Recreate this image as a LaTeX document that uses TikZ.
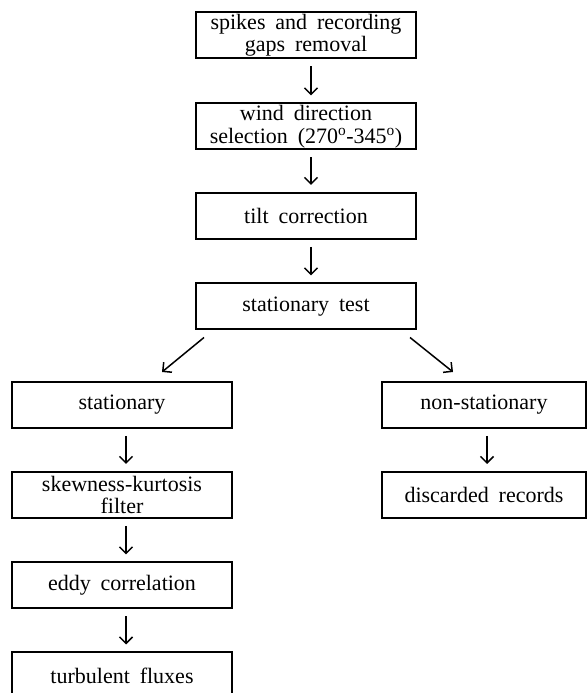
\documentclass[tikz,border=0pt]{standalone}
\usepackage{fontspec}
\setmainfont{Liberation Serif}[WordSpace=1.8]
\usetikzlibrary{arrows.meta}
\tikzset{
  flowbox/.style={draw, line width=2pt, minimum width=220pt, minimum height=46pt,
    inner sep=0pt, align=center,
    font=\fontsize{22}{22.5}\selectfont},
  narrowbox/.style={flowbox, minimum width=204pt},
  arr/.style={line width=1.5pt, -{Straight Barb[length=6.5pt,width=13pt,line width=1.5pt]}},
  varr/.style={arr, shorten <=7pt, shorten >=7pt}
}
\begin{document}
\begin{tikzpicture}[x=1pt,y=1pt]
\useasboundingbox (0,0) rectangle (587,693);
\node[flowbox] (b1) at (306,657.5) {spikes and recording\\gaps removal};
\node[flowbox] (b2) at (306,566.5) {wind direction\\selection (270\textsuperscript{o}-345\textsuperscript{o})};
\node[flowbox] (b3) at (306,477) {tilt correction};
\node[flowbox] (b4) at (306,386.5) {stationary test};
\node[flowbox] (st) at (122,288) {stationary};
\node[flowbox] (sk) at (122,198) {skewness-kurtosis\\filter};
\node[flowbox] (ed) at (122,107.5) {eddy correlation};
\node[flowbox] (tu) at (122,17.5) {turbulent fluxes};
\node[narrowbox] (ns) at (484,288) {non-stationary};
\node[narrowbox] (dr) at (484,198) {discarded records};
\draw[varr] ([xshift=5pt]b1.south) -- ([xshift=5pt]b2.north);
\draw[varr] ([xshift=5pt]b2.south) -- ([xshift=5pt]b3.north);
\draw[varr] ([xshift=5pt]b3.south) -- ([xshift=5pt]b4.north);
\draw[arr] ([shift={(9,-7)}]b4.south west) -- ([shift={(40,9)}]st.north);
\draw[arr] ([shift={(-7,-7)}]b4.south east) -- ([shift={(-31,9)}]ns.north);
\draw[varr] ([xshift=4pt]st.south) -- ([xshift=4pt]sk.north);
\draw[varr] ([xshift=4pt]sk.south) -- ([xshift=4pt]ed.north);
\draw[varr] ([xshift=4pt]ed.south) -- ([xshift=4pt]tu.north);
\draw[varr] ([xshift=3pt]ns.south) -- ([xshift=3pt]dr.north);
\end{tikzpicture}
\end{document}
